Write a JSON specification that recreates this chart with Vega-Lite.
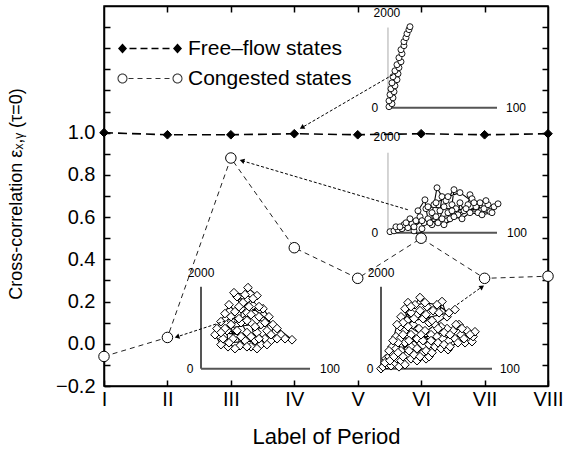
{
  "$schema": "https://vega.github.io/schema/vega-lite/v6.json",
  "width": 444,
  "height": 380,
  "autosize": {"type": "none"},
  "padding": {"left": 104, "top": 6, "right": 28, "bottom": 66},
  "background": "white",
  "config": {
    "font": "Liberation Sans",
    "view": {"stroke": "black", "strokeWidth": 1.5},
    "axis": {"grid": false}
  },
  "datasets": {
    "main": [
      {"period": 1, "value": 1.0, "series": "Free–flow states"},
      {"period": 2, "value": 0.99, "series": "Free–flow states"},
      {"period": 3, "value": 0.99, "series": "Free–flow states"},
      {"period": 4, "value": 0.995, "series": "Free–flow states"},
      {"period": 5, "value": 0.99, "series": "Free–flow states"},
      {"period": 6, "value": 0.995, "series": "Free–flow states"},
      {"period": 7, "value": 0.99, "series": "Free–flow states"},
      {"period": 8, "value": 0.995, "series": "Free–flow states"},
      {"period": 1, "value": -0.06, "series": "Congested states"},
      {"period": 2, "value": 0.03, "series": "Congested states"},
      {"period": 3, "value": 0.88, "series": "Congested states"},
      {"period": 4, "value": 0.455, "series": "Congested states"},
      {"period": 5, "value": 0.31, "series": "Congested states"},
      {"period": 6, "value": 0.50, "series": "Congested states"},
      {"period": 7, "value": 0.31, "series": "Congested states"},
      {"period": 8, "value": 0.32, "series": "Congested states"}
    ],
    "inset": [
      {"inset": "A", "x": 5.493, "y": 1.123}, {"inset": "A", "x": 5.540, "y": 1.137}, {"inset": "A", "x": 5.493, "y": 1.151},
      {"inset": "A", "x": 5.556, "y": 1.165}, {"inset": "A", "x": 5.509, "y": 1.180}, {"inset": "A", "x": 5.572, "y": 1.194},
      {"inset": "A", "x": 5.524, "y": 1.208}, {"inset": "A", "x": 5.587, "y": 1.222}, {"inset": "A", "x": 5.540, "y": 1.236},
      {"inset": "A", "x": 5.619, "y": 1.251}, {"inset": "A", "x": 5.556, "y": 1.265}, {"inset": "A", "x": 5.635, "y": 1.279},
      {"inset": "A", "x": 5.587, "y": 1.293}, {"inset": "A", "x": 5.650, "y": 1.308}, {"inset": "A", "x": 5.619, "y": 1.322},
      {"inset": "A", "x": 5.682, "y": 1.336}, {"inset": "A", "x": 5.650, "y": 1.355}, {"inset": "A", "x": 5.698, "y": 1.374},
      {"inset": "A", "x": 5.682, "y": 1.393}, {"inset": "A", "x": 5.729, "y": 1.412}, {"inset": "A", "x": 5.729, "y": 1.431},
      {"inset": "A", "x": 5.761, "y": 1.450}, {"inset": "A", "x": 5.777, "y": 1.469}, {"inset": "A", "x": 5.808, "y": 1.488},
      {"inset": "A", "x": 5.824, "y": 1.502},

      {"inset": "B", "x": 5.509, "y": 0.531}, {"inset": "B", "x": 5.572, "y": 0.535}, {"inset": "B", "x": 5.635, "y": 0.540},
      {"inset": "B", "x": 5.603, "y": 0.554}, {"inset": "B", "x": 5.698, "y": 0.545}, {"inset": "B", "x": 5.729, "y": 0.564},
      {"inset": "B", "x": 5.792, "y": 0.550}, {"inset": "B", "x": 5.855, "y": 0.569}, {"inset": "B", "x": 5.824, "y": 0.592},
      {"inset": "B", "x": 5.919, "y": 0.583}, {"inset": "B", "x": 5.887, "y": 0.535}, {"inset": "B", "x": 5.982, "y": 0.507},
      {"inset": "B", "x": 6.013, "y": 0.545}, {"inset": "B", "x": 6.045, "y": 0.573}, {"inset": "B", "x": 5.982, "y": 0.602},
      {"inset": "B", "x": 5.950, "y": 0.630}, {"inset": "B", "x": 6.060, "y": 0.682}, {"inset": "B", "x": 6.076, "y": 0.640},
      {"inset": "B", "x": 6.108, "y": 0.592}, {"inset": "B", "x": 6.171, "y": 0.564}, {"inset": "B", "x": 6.171, "y": 0.621},
      {"inset": "B", "x": 6.202, "y": 0.659}, {"inset": "B", "x": 6.250, "y": 0.739}, {"inset": "B", "x": 6.329, "y": 0.697},
      {"inset": "B", "x": 6.297, "y": 0.630}, {"inset": "B", "x": 6.234, "y": 0.602}, {"inset": "B", "x": 6.266, "y": 0.573},
      {"inset": "B", "x": 6.360, "y": 0.649}, {"inset": "B", "x": 6.392, "y": 0.678}, {"inset": "B", "x": 6.518, "y": 0.730},
      {"inset": "B", "x": 6.486, "y": 0.659}, {"inset": "B", "x": 6.423, "y": 0.621}, {"inset": "B", "x": 6.455, "y": 0.592},
      {"inset": "B", "x": 6.549, "y": 0.640}, {"inset": "B", "x": 6.581, "y": 0.611}, {"inset": "B", "x": 6.612, "y": 0.668},
      {"inset": "B", "x": 6.676, "y": 0.630}, {"inset": "B", "x": 6.739, "y": 0.659}, {"inset": "B", "x": 6.770, "y": 0.706},
      {"inset": "B", "x": 6.802, "y": 0.687}, {"inset": "B", "x": 6.865, "y": 0.649}, {"inset": "B", "x": 6.896, "y": 0.621},
      {"inset": "B", "x": 6.928, "y": 0.668}, {"inset": "B", "x": 6.991, "y": 0.640}, {"inset": "B", "x": 7.054, "y": 0.659},
      {"inset": "B", "x": 7.086, "y": 0.626}, {"inset": "B", "x": 7.149, "y": 0.649}, {"inset": "B", "x": 7.212, "y": 0.663},
      {"inset": "B", "x": 5.666, "y": 0.554}, {"inset": "B", "x": 5.761, "y": 0.573}, {"inset": "B", "x": 5.887, "y": 0.554},
      {"inset": "B", "x": 6.013, "y": 0.583}, {"inset": "B", "x": 6.139, "y": 0.573}, {"inset": "B", "x": 6.329, "y": 0.592},
      {"inset": "B", "x": 6.518, "y": 0.602}, {"inset": "B", "x": 6.644, "y": 0.592}, {"inset": "B", "x": 6.770, "y": 0.621},
      {"inset": "B", "x": 6.959, "y": 0.611}, {"inset": "B", "x": 7.117, "y": 0.621}, {"inset": "B", "x": 6.108, "y": 0.649},
      {"inset": "B", "x": 6.234, "y": 0.668}, {"inset": "B", "x": 6.423, "y": 0.697}, {"inset": "B", "x": 6.612, "y": 0.716},
      {"inset": "B", "x": 6.833, "y": 0.668}, {"inset": "B", "x": 7.022, "y": 0.678}, {"inset": "B", "x": 6.360, "y": 0.564},
      {"inset": "B", "x": 6.707, "y": 0.640}, {"inset": "B", "x": 6.486, "y": 0.630},

      {"inset": "C", "x": 2.750, "y": 0.043}, {"inset": "C", "x": 2.844, "y": -0.004}, {"inset": "C", "x": 2.876, "y": 0.024},
      {"inset": "C", "x": 2.781, "y": 0.072}, {"inset": "C", "x": 2.844, "y": 0.105}, {"inset": "C", "x": 2.907, "y": 0.143},
      {"inset": "C", "x": 2.971, "y": 0.185}, {"inset": "C", "x": 3.065, "y": 0.152}, {"inset": "C", "x": 3.002, "y": 0.110},
      {"inset": "C", "x": 2.939, "y": 0.062}, {"inset": "C", "x": 2.955, "y": -0.014}, {"inset": "C", "x": 3.034, "y": 0.024},
      {"inset": "C", "x": 3.002, "y": 0.091}, {"inset": "C", "x": 3.097, "y": 0.062}, {"inset": "C", "x": 3.144, "y": -0.009},
      {"inset": "C", "x": 3.223, "y": 0.015}, {"inset": "C", "x": 3.254, "y": 0.053}, {"inset": "C", "x": 3.160, "y": 0.100},
      {"inset": "C", "x": 3.160, "y": 0.166}, {"inset": "C", "x": 3.097, "y": 0.223}, {"inset": "C", "x": 3.191, "y": 0.195},
      {"inset": "C", "x": 3.270, "y": 0.266}, {"inset": "C", "x": 3.412, "y": 0.228}, {"inset": "C", "x": 3.349, "y": 0.181},
      {"inset": "C", "x": 3.254, "y": 0.147}, {"inset": "C", "x": 3.318, "y": 0.138}, {"inset": "C", "x": 3.318, "y": 0.100},
      {"inset": "C", "x": 3.381, "y": 0.015}, {"inset": "C", "x": 3.318, "y": -0.014}, {"inset": "C", "x": 3.412, "y": 0.053},
      {"inset": "C", "x": 3.475, "y": 0.091}, {"inset": "C", "x": 3.444, "y": 0.128}, {"inset": "C", "x": 3.507, "y": 0.166},
      {"inset": "C", "x": 3.601, "y": 0.128}, {"inset": "C", "x": 3.570, "y": 0.062}, {"inset": "C", "x": 3.538, "y": 0.024},
      {"inset": "C", "x": 3.475, "y": -0.004}, {"inset": "C", "x": 3.633, "y": 0.015}, {"inset": "C", "x": 3.664, "y": 0.091},
      {"inset": "C", "x": 3.728, "y": 0.072}, {"inset": "C", "x": 3.791, "y": 0.043}, {"inset": "C", "x": 3.964, "y": 0.019},
      {"inset": "C", "x": 3.049, "y": 0.242}, {"inset": "C", "x": 3.223, "y": 0.233}, {"inset": "C", "x": 3.349, "y": 0.214},
      {"inset": "C", "x": 3.002, "y": 0.128}, {"inset": "C", "x": 3.128, "y": 0.119}, {"inset": "C", "x": 3.254, "y": 0.110},
      {"inset": "C", "x": 3.381, "y": 0.081}, {"inset": "C", "x": 3.538, "y": 0.100}, {"inset": "C", "x": 2.907, "y": 0.072},
      {"inset": "C", "x": 3.160, "y": 0.034}, {"inset": "C", "x": 3.318, "y": 0.034}, {"inset": "C", "x": 3.444, "y": 0.024},
      {"inset": "C", "x": 3.633, "y": 0.043}, {"inset": "C", "x": 3.854, "y": 0.024}, {"inset": "C", "x": 2.971, "y": 0.005},
      {"inset": "C", "x": 3.065, "y": -0.023}, {"inset": "C", "x": 3.254, "y": -0.014}, {"inset": "C", "x": 3.412, "y": -0.023},
      {"inset": "C", "x": 3.570, "y": -0.004}, {"inset": "C", "x": 3.128, "y": 0.176}, {"inset": "C", "x": 3.286, "y": 0.176},
      {"inset": "C", "x": 3.444, "y": 0.176}, {"inset": "C", "x": 2.844, "y": 0.053}, {"inset": "C", "x": 3.728, "y": 0.024},

      {"inset": "D", "x": 5.367, "y": -0.118}, {"inset": "D", "x": 5.399, "y": -0.109}, {"inset": "D", "x": 5.462, "y": -0.099},
      {"inset": "D", "x": 5.446, "y": -0.071}, {"inset": "D", "x": 5.525, "y": -0.104}, {"inset": "D", "x": 5.588, "y": -0.090},
      {"inset": "D", "x": 5.493, "y": -0.061}, {"inset": "D", "x": 5.556, "y": -0.052}, {"inset": "D", "x": 5.651, "y": -0.109},
      {"inset": "D", "x": 5.619, "y": -0.071}, {"inset": "D", "x": 5.540, "y": -0.014}, {"inset": "D", "x": 5.604, "y": -0.023},
      {"inset": "D", "x": 5.682, "y": -0.080}, {"inset": "D", "x": 5.745, "y": -0.099}, {"inset": "D", "x": 5.682, "y": -0.033},
      {"inset": "D", "x": 5.604, "y": 0.034}, {"inset": "D", "x": 5.667, "y": 0.024}, {"inset": "D", "x": 5.777, "y": -0.052},
      {"inset": "D", "x": 5.840, "y": -0.071}, {"inset": "D", "x": 5.935, "y": -0.080}, {"inset": "D", "x": 5.745, "y": 0.005},
      {"inset": "D", "x": 5.667, "y": 0.081}, {"inset": "D", "x": 5.840, "y": -0.014}, {"inset": "D", "x": 5.935, "y": -0.023},
      {"inset": "D", "x": 6.029, "y": -0.042}, {"inset": "D", "x": 6.077, "y": -0.071}, {"inset": "D", "x": 6.124, "y": -0.061},
      {"inset": "D", "x": 5.745, "y": 0.062}, {"inset": "D", "x": 5.682, "y": 0.128}, {"inset": "D", "x": 5.840, "y": 0.043},
      {"inset": "D", "x": 5.935, "y": 0.024}, {"inset": "D", "x": 6.029, "y": 0.015}, {"inset": "D", "x": 6.124, "y": -0.004},
      {"inset": "D", "x": 6.219, "y": -0.014}, {"inset": "D", "x": 6.313, "y": -0.023}, {"inset": "D", "x": 6.424, "y": -0.028},
      {"inset": "D", "x": 5.777, "y": 0.110}, {"inset": "D", "x": 5.745, "y": 0.166}, {"inset": "D", "x": 5.872, "y": 0.091},
      {"inset": "D", "x": 5.966, "y": 0.072}, {"inset": "D", "x": 6.061, "y": 0.062}, {"inset": "D", "x": 6.156, "y": 0.043},
      {"inset": "D", "x": 6.250, "y": 0.034}, {"inset": "D", "x": 6.345, "y": 0.024}, {"inset": "D", "x": 6.439, "y": 0.015},
      {"inset": "D", "x": 6.534, "y": 0.024}, {"inset": "D", "x": 6.629, "y": 0.043}, {"inset": "D", "x": 6.692, "y": 0.005},
      {"inset": "D", "x": 6.802, "y": 0.010}, {"inset": "D", "x": 6.818, "y": 0.034}, {"inset": "D", "x": 6.849, "y": 0.057},
      {"inset": "D", "x": 6.723, "y": 0.062}, {"inset": "D", "x": 6.597, "y": 0.091}, {"inset": "D", "x": 6.502, "y": 0.062},
      {"inset": "D", "x": 6.408, "y": 0.072}, {"inset": "D", "x": 6.313, "y": 0.081}, {"inset": "D", "x": 6.219, "y": 0.091},
      {"inset": "D", "x": 6.124, "y": 0.100}, {"inset": "D", "x": 6.029, "y": 0.119}, {"inset": "D", "x": 5.935, "y": 0.138},
      {"inset": "D", "x": 5.840, "y": 0.147}, {"inset": "D", "x": 5.793, "y": 0.195}, {"inset": "D", "x": 5.903, "y": 0.185},
      {"inset": "D", "x": 5.982, "y": 0.219}, {"inset": "D", "x": 6.092, "y": 0.176}, {"inset": "D", "x": 6.187, "y": 0.157},
      {"inset": "D", "x": 6.282, "y": 0.147}, {"inset": "D", "x": 6.329, "y": 0.200}, {"inset": "D", "x": 6.408, "y": 0.128},
      {"inset": "D", "x": 6.534, "y": 0.162},
      {"inset": "D", "x": 5.430, "y": -0.090}, {"inset": "D", "x": 5.509, "y": -0.080}, {"inset": "D", "x": 5.572, "y": -0.061},
      {"inset": "D", "x": 5.635, "y": -0.042}, {"inset": "D", "x": 5.714, "y": -0.061}, {"inset": "D", "x": 5.809, "y": -0.033},
      {"inset": "D", "x": 5.887, "y": -0.052}, {"inset": "D", "x": 5.982, "y": -0.061}, {"inset": "D", "x": 6.077, "y": -0.033},
      {"inset": "D", "x": 6.171, "y": -0.042}, {"inset": "D", "x": 6.266, "y": 0.005}, {"inset": "D", "x": 6.361, "y": -0.004},
      {"inset": "D", "x": 6.455, "y": -0.014}, {"inset": "D", "x": 6.581, "y": 0.005}, {"inset": "D", "x": 6.676, "y": 0.024},
      {"inset": "D", "x": 6.771, "y": 0.043}, {"inset": "D", "x": 5.635, "y": 0.005}, {"inset": "D", "x": 5.714, "y": 0.043},
      {"inset": "D", "x": 5.793, "y": 0.081}, {"inset": "D", "x": 5.887, "y": 0.119}, {"inset": "D", "x": 5.982, "y": 0.157},
      {"inset": "D", "x": 6.077, "y": 0.138}, {"inset": "D", "x": 6.171, "y": 0.110}, {"inset": "D", "x": 6.266, "y": 0.072},
      {"inset": "D", "x": 6.361, "y": 0.053}, {"inset": "D", "x": 6.455, "y": 0.043}, {"inset": "D", "x": 6.550, "y": 0.091},
      {"inset": "D", "x": 6.644, "y": 0.072}, {"inset": "D", "x": 5.809, "y": 0.015}, {"inset": "D", "x": 5.998, "y": 0.043},
      {"inset": "D", "x": 6.156, "y": 0.015}, {"inset": "D", "x": 5.714, "y": 0.100}, {"inset": "D", "x": 5.840, "y": 0.176},
      {"inset": "D", "x": 6.061, "y": 0.195}, {"inset": "D", "x": 6.250, "y": 0.185}, {"inset": "D", "x": 6.439, "y": 0.147},
      {"inset": "D", "x": 5.619, "y": 0.091}, {"inset": "D", "x": 5.556, "y": 0.015}, {"inset": "D", "x": 5.493, "y": -0.033}
    ],
    "insetAxes": [
      {"inset": "A", "part": "y", "x": 5.477, "y": 1.118, "xend": 5.477, "yend": 1.498},
      {"inset": "A", "part": "x", "x": 5.477, "y": 1.118, "xend": 7.196, "yend": 1.118},
      {"inset": "B", "part": "y", "x": 5.477, "y": 0.526, "xend": 5.477, "yend": 0.905},
      {"inset": "B", "part": "x", "x": 5.477, "y": 0.526, "xend": 7.196, "yend": 0.526},
      {"inset": "C", "part": "y", "x": 2.529, "y": -0.118, "xend": 2.529, "yend": 0.270},
      {"inset": "C", "part": "x", "x": 2.529, "y": -0.118, "xend": 4.248, "yend": -0.118},
      {"inset": "D", "part": "y", "x": 5.367, "y": -0.118, "xend": 5.367, "yend": 0.270},
      {"inset": "D", "part": "x", "x": 5.367, "y": -0.118, "xend": 7.117, "yend": -0.118}
    ],
    "insetLabels": [
      {"x": 5.46, "y": 1.569, "text": "2000"}, {"x": 5.272, "y": 1.118, "text": "0"}, {"x": 7.495, "y": 1.118, "text": "100"},
      {"x": 5.46, "y": 0.981, "text": "2000"}, {"x": 5.272, "y": 0.526, "text": "0"}, {"x": 7.511, "y": 0.526, "text": "100"},
      {"x": 2.529, "y": 0.336, "text": "2000"}, {"x": 2.356, "y": -0.118, "text": "0"}, {"x": 4.563, "y": -0.118, "text": "100"},
      {"x": 5.367, "y": 0.336, "text": "2000"}, {"x": 5.194, "y": -0.118, "text": "0"}, {"x": 7.40, "y": -0.118, "text": "100"}
    ],
    "arrows": [
      {"id": "A", "x": 5.556, "y": 1.275, "xend": 4.12, "yend": 1.024},
      {"id": "B", "x": 5.79, "y": 0.635, "xend": 3.176, "yend": 0.867},
      {"id": "C", "x": 3.065, "y": 0.123, "xend": 2.151, "yend": 0.033},
      {"id": "D", "x": 6.565, "y": 0.185, "xend": 6.96, "yend": 0.27}
    ]
  },
  "resolve": {"axis": {"x": "independent", "y": "independent"}},
  "layer": [
    {
      "data": {"name": "main"},
      "transform": [{"filter": "datum.series == 'Free–flow states'"}],
      "mark": {"type": "line", "color": "black", "strokeWidth": 1.6, "strokeDash": [9, 5]},
      "encoding": {
        "x": {"field": "period", "type": "quantitative", "scale": {"domain": [1, 8], "nice": false, "zero": false},
          "axis": {"orient": "bottom", "values": [1, 2, 3, 4, 5, 6, 7, 8],
            "labelExpr": "['I','II','III','IV','V','VI','VII','VIII'][datum.value-1]",
            "labelFontSize": 20, "labelColor": "black", "labelPadding": 25, "labelBaseline": "alphabetic",
            "labelFlush": false, "labelOverlap": false, "labelBound": false,
            "tickSize": -6, "tickColor": "black", "tickWidth": 1.5, "domainColor": "black", "domainWidth": 1.5,
            "title": "Label of Period", "titleFontSize": 22, "titleFontWeight": "normal", "titleColor": "black",
            "titleBaseline": "alphabetic", "titleY": 57}},
        "y": {"field": "value", "type": "quantitative", "scale": {"domain": [-0.2, 1.6], "nice": false, "zero": false},
          "axis": {"orient": "left", "values": [-0.2, -0.1, 0, 0.1, 0.2, 0.3, 0.4, 0.5, 0.6, 0.7, 0.8, 0.9, 1.0, 1.1, 1.2, 1.3, 1.4, 1.5],
            "labelExpr": "datum.value <= 1.001 && abs(round(datum.value*10)) % 2 == 0 ? format(datum.value, '.1f') : ''",
            "labelFontSize": 20, "labelColor": "black", "labelPadding": 15, "labelBaseline": "middle",
            "labelFlush": false, "labelOverlap": false, "labelBound": false,
            "tickSize": -6, "tickColor": "black", "tickWidth": 1.5, "domainColor": "black", "domainWidth": 1.5,
            "title": "Cross-correlation εₓ,ᵧ (τ=0)", "titleFontSize": 18, "titleFontWeight": "normal", "titleColor": "black",
            "titleBaseline": "bottom", "titleX": -79, "titleY": 187.5, "titleAngle": -90}}
      }
    },
    {
      "data": {"name": "main"},
      "transform": [{"filter": "datum.series == 'Congested states'"}],
      "mark": {"type": "line", "color": "#222", "strokeWidth": 1, "strokeDash": [5, 4]},
      "encoding": {
        "x": {"field": "period", "type": "quantitative", "scale": {"domain": [1, 8], "nice": false, "zero": false},
          "axis": {"orient": "top", "values": [2, 3, 4, 5, 6, 7], "labels": false, "tickSize": -6, "tickColor": "black", "tickWidth": 1.5,
            "domainColor": "black", "domainWidth": 1.5, "title": null}},
        "y": {"field": "value", "type": "quantitative", "scale": {"domain": [-0.2, 1.6], "nice": false, "zero": false},
          "axis": {"orient": "right", "values": [-0.1, 0, 0.1, 0.2, 0.3, 0.4, 0.5, 0.6, 0.7, 0.8, 0.9, 1.0, 1.1, 1.2, 1.3, 1.4, 1.5],
            "labels": false, "tickSize": -6, "tickColor": "black", "tickWidth": 1.5,
            "domainColor": "black", "domainWidth": 1.5, "title": null}}
      }
    },
    {
      "data": {"name": "insetAxes"},
      "transform": [{"filter": "(datum.inset == 'A' || datum.inset == 'B') && datum.part == 'y'"}],
      "mark": {"type": "rule", "color": "#aaaaaa", "strokeWidth": 1},
      "encoding": {
        "x": {"field": "x", "type": "quantitative", "scale": {"domain": [1, 8], "nice": false, "zero": false}, "axis": null},
        "y": {"field": "y", "type": "quantitative", "scale": {"domain": [-0.2, 1.6], "nice": false, "zero": false}, "axis": null},
        "x2": {"field": "xend"},
        "y2": {"field": "yend"}
      }
    },
    {
      "data": {"name": "insetAxes"},
      "transform": [{"filter": "!((datum.inset == 'A' || datum.inset == 'B') && datum.part == 'y')"}],
      "mark": {"type": "rule", "color": "#555555", "strokeWidth": 2},
      "encoding": {
        "x": {"field": "x", "type": "quantitative", "scale": {"domain": [1, 8], "nice": false, "zero": false}, "axis": null},
        "y": {"field": "y", "type": "quantitative", "scale": {"domain": [-0.2, 1.6], "nice": false, "zero": false}, "axis": null},
        "x2": {"field": "xend"},
        "y2": {"field": "yend"}
      }
    },
    {
      "data": {"name": "inset"},
      "mark": {"type": "line", "color": "black", "strokeWidth": 1.1},
      "encoding": {
        "x": {"field": "x", "type": "quantitative", "scale": {"domain": [1, 8], "nice": false, "zero": false}, "axis": null},
        "y": {"field": "y", "type": "quantitative", "scale": {"domain": [-0.2, 1.6], "nice": false, "zero": false}, "axis": null},
        "detail": {"field": "inset"},
        "order": {"value": null}
      }
    },
    {
      "data": {"name": "inset"},
      "transform": [{"filter": "datum.inset == 'A' || datum.inset == 'B'"}],
      "mark": {"type": "point", "shape": "circle", "filled": true, "fill": "white", "stroke": "black", "strokeWidth": 0.9, "size": 36, "opacity": 1},
      "encoding": {
        "x": {"field": "x", "type": "quantitative", "scale": {"domain": [1, 8], "nice": false, "zero": false}, "axis": null},
        "y": {"field": "y", "type": "quantitative", "scale": {"domain": [-0.2, 1.6], "nice": false, "zero": false}, "axis": null}
      }
    },
    {
      "data": {"name": "inset"},
      "transform": [{"filter": "datum.inset == 'C' || datum.inset == 'D'"}],
      "mark": {"type": "point", "shape": "diamond", "filled": true, "fill": "white", "stroke": "black", "strokeWidth": 1, "size": 75, "opacity": 1},
      "encoding": {
        "x": {"field": "x", "type": "quantitative", "scale": {"domain": [1, 8], "nice": false, "zero": false}, "axis": null},
        "y": {"field": "y", "type": "quantitative", "scale": {"domain": [-0.2, 1.6], "nice": false, "zero": false}, "axis": null}
      }
    },
    {
      "data": {"name": "insetLabels"},
      "mark": {"type": "text", "fontSize": 12, "color": "black", "align": "center", "baseline": "middle"},
      "encoding": {
        "x": {"field": "x", "type": "quantitative", "scale": {"domain": [1, 8], "nice": false, "zero": false}, "axis": null},
        "y": {"field": "y", "type": "quantitative", "scale": {"domain": [-0.2, 1.6], "nice": false, "zero": false}, "axis": null},
        "text": {"field": "text"}
      }
    },
    {
      "data": {"name": "arrows"},
      "mark": {"type": "rule", "color": "black", "strokeWidth": 1, "strokeDash": [3, 2]},
      "encoding": {
        "x": {"field": "x", "type": "quantitative", "scale": {"domain": [1, 8], "nice": false, "zero": false}, "axis": null},
        "y": {"field": "y", "type": "quantitative", "scale": {"domain": [-0.2, 1.6], "nice": false, "zero": false}, "axis": null},
        "x2": {"field": "xend"},
        "y2": {"field": "yend"}
      }
    },
    {
      "data": {"name": "arrows"},
      "transform": [{"filter": "datum.id == 'A'"}],
      "mark": {"type": "point", "shape": "triangle-right", "angle": 150, "filled": true, "color": "black", "size": 30, "opacity": 1},
      "encoding": {
        "x": {"field": "xend", "type": "quantitative", "scale": {"domain": [1, 8], "nice": false, "zero": false}, "axis": null},
        "y": {"field": "yend", "type": "quantitative", "scale": {"domain": [-0.2, 1.6], "nice": false, "zero": false}, "axis": null}
      }
    },
    {
      "data": {"name": "arrows"},
      "transform": [{"filter": "datum.id == 'B'"}],
      "mark": {"type": "point", "shape": "triangle-right", "angle": 196, "filled": true, "color": "black", "size": 30, "opacity": 1},
      "encoding": {
        "x": {"field": "xend", "type": "quantitative", "scale": {"domain": [1, 8], "nice": false, "zero": false}, "axis": null},
        "y": {"field": "yend", "type": "quantitative", "scale": {"domain": [-0.2, 1.6], "nice": false, "zero": false}, "axis": null}
      }
    },
    {
      "data": {"name": "arrows"},
      "transform": [{"filter": "datum.id == 'C'"}],
      "mark": {"type": "point", "shape": "triangle-right", "angle": 162, "filled": true, "color": "black", "size": 30, "opacity": 1},
      "encoding": {
        "x": {"field": "xend", "type": "quantitative", "scale": {"domain": [1, 8], "nice": false, "zero": false}, "axis": null},
        "y": {"field": "yend", "type": "quantitative", "scale": {"domain": [-0.2, 1.6], "nice": false, "zero": false}, "axis": null}
      }
    },
    {
      "data": {"name": "arrows"},
      "transform": [{"filter": "datum.id == 'D'"}],
      "mark": {"type": "point", "shape": "triangle-right", "angle": 324, "filled": true, "color": "black", "size": 30, "opacity": 1},
      "encoding": {
        "x": {"field": "xend", "type": "quantitative", "scale": {"domain": [1, 8], "nice": false, "zero": false}, "axis": null},
        "y": {"field": "yend", "type": "quantitative", "scale": {"domain": [-0.2, 1.6], "nice": false, "zero": false}, "axis": null}
      }
    },
    {
      "data": {"name": "main"},
      "transform": [{"filter": "datum.series == 'Free–flow states'"}],
      "mark": {"type": "point", "shape": "diamond", "filled": true, "fill": "black", "stroke": "black", "strokeWidth": 1, "size": 75, "opacity": 1},
      "encoding": {
        "x": {"field": "period", "type": "quantitative", "scale": {"domain": [1, 8], "nice": false, "zero": false}, "axis": null},
        "y": {"field": "value", "type": "quantitative", "scale": {"domain": [-0.2, 1.6], "nice": false, "zero": false}, "axis": null}
      }
    },
    {
      "data": {"name": "main"},
      "transform": [{"filter": "datum.series == 'Congested states'"}],
      "mark": {"type": "point", "shape": "circle", "filled": true, "fill": "white", "stroke": "black", "strokeWidth": 1, "size": 110, "opacity": 1},
      "encoding": {
        "x": {"field": "period", "type": "quantitative", "scale": {"domain": [1, 8], "nice": false, "zero": false}, "axis": null},
        "y": {"field": "value", "type": "quantitative", "scale": {"domain": [-0.2, 1.6], "nice": false, "zero": false}, "axis": null}
      }
    },
    {
      "data": {"name": "main"},
      "mark": {"type": "point", "filled": true, "stroke": "black", "strokeWidth": 1, "size": 0},
      "encoding": {
        "x": {"field": "period", "type": "quantitative", "scale": {"domain": [1, 8], "nice": false, "zero": false}, "axis": null},
        "y": {"field": "value", "type": "quantitative", "scale": {"domain": [-0.2, 1.6], "nice": false, "zero": false}, "axis": null},
        "shape": {"field": "series", "type": "nominal",
          "scale": {"domain": ["Free–flow states", "Congested states"],
            "range": ["M-42,-5L-37.5,0L-42,5L-46.5,0Z M-35,-0.8H-28V0.8H-35Z M-24,-0.8H-17V0.8H-24Z M-13,-0.8H-6V0.8H-13Z M-2,-0.8H5V0.8H-2Z M13,-5L17.5,0L13,5L8.5,0Z",
                      "M-37,0A5,5,0,1,1,-47,0A5,5,0,1,1,-37,0Z M-38,0A4,4,0,1,0,-46,0A4,4,0,1,0,-38,0Z M-36,-0.5H-31V0.5H-36Z M-27,-0.5H-22V0.5H-27Z M-18,-0.5H-13V0.5H-18Z M-9,-0.5H-4V0.5H-9Z M0,-0.5H5V0.5H0Z M18,0A5,5,0,1,1,8,0A5,5,0,1,1,18,0Z M17,0A4,4,0,1,0,9,0A4,4,0,1,0,17,0Z"]},
          "legend": {"title": null, "orient": "none", "legendX": 50, "legendY": 32, "padding": 0, "rowPadding": 8,
            "labelFontSize": 21, "labelFont": "Liberation Sans", "labelColor": "black", "labelOffset": 13, "labelLimit": 400, "symbolSize": 4,
            "symbolStrokeWidth": 0, "symbolOpacity": 1}},
        "fill": {"field": "series", "type": "nominal",
          "scale": {"domain": ["Free–flow states", "Congested states"], "range": ["black", "#333333"]},
          "legend": {"title": null, "orient": "none", "legendX": 50, "legendY": 32, "padding": 0, "rowPadding": 8,
            "labelFontSize": 21, "labelFont": "Liberation Sans", "labelColor": "black", "labelOffset": 13, "labelLimit": 400, "symbolSize": 4,
            "symbolStrokeWidth": 0, "symbolOpacity": 1}}
      }
    }
  ]
}
